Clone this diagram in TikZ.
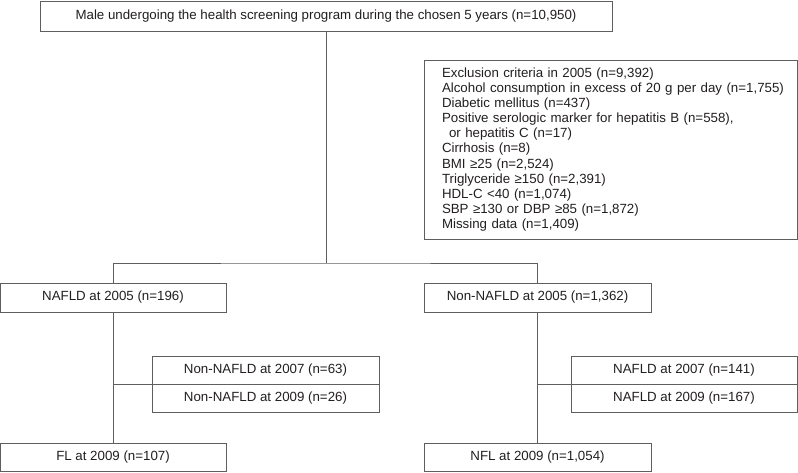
\documentclass[tikz,border=0pt]{standalone}
\usepackage{fontspec}
\setmainfont{Liberation Sans}
\begin{document}
\begin{tikzpicture}[x=1pt,y=-1pt,
  linec/.style={draw={rgb,255:red,95;green,95;blue,95}, line width=1pt},
  box/.style={linec, rectangle, inner sep=0pt, align=center,
    font=\fontsize{13.3}{15.1}\selectfont, text={rgb,255:red,35;green,31;blue,32}},
  conn/.style={linec}
]
\useasboundingbox (0,0) rectangle (798,472);
\fill[white] (0,0) rectangle (798,472);

\node[box, minimum width=572, minimum height=30] (top) at (326,16)
  {Male undergoing the health screening program during the chosen 5 years (n=10,950)};

\node[box, anchor=north west, minimum width=373, minimum height=179,
      text width=373, align=left, inner xsep=0pt, inner ysep=0pt] (excl) at (423.5,59.5)
  {\hspace*{18pt}Exclusion criteria in 2005 (n=9,392)\\
   \hspace*{18pt}Alcohol consumption in excess of 20 g per day (n=1,755)\\
   \hspace*{18pt}Diabetic mellitus (n=437)\\
   \hspace*{18pt}Positive serologic marker for hepatitis B (n=558),\\
   \hspace*{25pt}or hepatitis C (n=17)\\
   \hspace*{18pt}Cirrhosis (n=8)\\
   \hspace*{18pt}BMI ≥25 (n=2,524)\\
   \hspace*{18pt}Triglyceride ≥150 (n=2,391)\\
   \hspace*{18pt}HDL-C <40 (n=1,074)\\
   \hspace*{18pt}SBP ≥130 or DBP ≥85 (n=1,872)\\
   \hspace*{18pt}Missing data (n=1,409)};

\node[box, minimum width=226, minimum height=29] (n05) at (113,297.5) {NAFLD at 2005 (n=196)};
\node[box, minimum width=227, minimum height=29] (nn05) at (537.5,297.5) {Non-NAFLD at 2005 (n=1,362)};

\node[box, minimum width=227, minimum height=28] (nn07) at (265.5,370) {Non-NAFLD at 2007 (n=63)};
\node[box, minimum width=227, minimum height=28] (nn09) at (265.5,398) {Non-NAFLD at 2009 (n=26)};
\node[box, minimum width=226, minimum height=28] (n07) at (684,370) {NAFLD at 2007 (n=141)};
\node[box, minimum width=226, minimum height=28] (n09) at (684,398) {NAFLD at 2009 (n=167)};

\node[box, minimum width=226, minimum height=28] (fl) at (113,457) {FL at 2009 (n=107)};
\node[box, minimum width=227, minimum height=28] (nfl) at (537.5,457) {NFL at 2009 (n=1,054)};

\coordinate (split) at (326,263);
\draw[conn] (top.south) -- (split);
\draw[conn] (n05.north) |- (split) -| (nn05.north);

\draw[conn] (n05.south) -- (fl.north);
\draw[conn] (nn05.south) -- (nfl.north);
\draw[conn] (n05.south |- nn07.south) -- (nn07.south west);
\draw[conn] (nn05.south |- n07.south) -- (n07.south west);
\end{tikzpicture}
\end{document}
